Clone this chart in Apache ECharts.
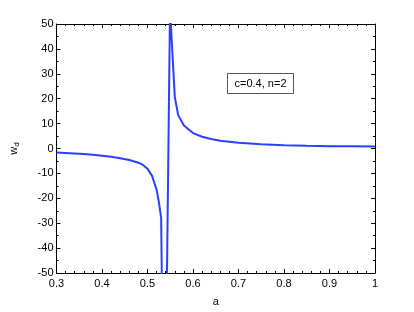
<!DOCTYPE html>
<html>
<head>
<meta charset="utf-8">
<script src="https://cdn.jsdelivr.net/npm/echarts@6/dist/echarts.min.js"></script>
<style>
html,body{margin:0;padding:0;background:#fff;}
#chart{width:414px;height:312px;}
</style>
</head>
<body>
<div id="chart"></div>
<script>
var aValues = [0.30, 0.32, 0.34, 0.36, 0.38, 0.40, 0.42, 0.44, 0.46, 0.48, 0.49, 0.50, 0.51, 0.52, 0.525, 0.53, 0.537,
               0.5495, 0.56, 0.5675, 0.58, 0.60, 0.62, 0.64, 0.66, 0.70, 0.75, 0.80, 0.85, 0.90, 0.95, 1.00];
var wValues = [-1.6, -1.8, -2.0, -2.2, -2.5, -2.9, -3.3, -3.9, -4.6, -5.7, -6.6, -8.1, -11, -16.5, -21.5, -28, -142,
               56, 20.6, 13.4, 9.2, 6.2, 4.7, 3.8, 3.1, 2.3, 1.7, 1.35, 1.1, 0.95, 0.88, 0.82];
var xTicks = [0.3, 0.4, 0.5, 0.6, 0.7, 0.8, 0.9, 1];
var yTicks = [-50, -40, -30, -20, -10, 0, 10, 20, 30, 40, 50];
var annotation = 'c=0.4, n=2';

var pts = aValues.map(function (a, i) { return [a, wValues[i]]; });
var font = 'Liberation Sans';
function axisCommon(showLabel) {
  return {
    axisLine: { show: true, onZero: false, lineStyle: { color: '#000', width: 1 } },
    axisTick: { show: true, inside: true, length: 4, lineStyle: { color: '#000' } },
    minorTick: { show: true, length: 2, lineStyle: { color: '#000' } },
    splitLine: { show: false },
    axisLabel: { show: showLabel, color: '#000', fontFamily: font, fontSize: 11 }
  };
}
var xb = axisCommon(true);
xb.type = 'value'; xb.min = xTicks[0]; xb.max = xTicks[xTicks.length - 1]; xb.interval = 0.1;
xb.position = 'bottom'; xb.minorTick.splitNumber = 5; xb.axisLabel.margin = 5;
xb.axisLabel.formatter = function (v) { return String(Math.round(v * 10) / 10); };
xb.name = 'a'; xb.nameLocation = 'middle'; xb.nameGap = 23;
xb.nameTextStyle = { color: '#000', fontFamily: font, fontSize: 11 };
var xt = axisCommon(false);
xt.type = 'value'; xt.min = xTicks[0]; xt.max = xTicks[xTicks.length - 1]; xt.interval = 0.1;
xt.position = 'top'; xt.minorTick.splitNumber = 5;
var yl = axisCommon(true);
yl.type = 'value'; yl.min = yTicks[0]; yl.max = yTicks[yTicks.length - 1]; yl.interval = 10;
yl.position = 'left'; yl.minorTick.splitNumber = 2; yl.axisLabel.margin = 3;
yl.name = 'w{sub|d}'; yl.nameLocation = 'middle'; yl.nameGap = 36; yl.nameRotate = 90;
yl.nameTextStyle = { color: '#000', fontFamily: font, fontSize: 11,
  rich: { sub: { fontSize: 8, verticalAlign: 'bottom', padding: [6, 0, 0, 0], fontFamily: font, color: '#000' } } };
var yr = axisCommon(false);
yr.type = 'value'; yr.min = yTicks[0]; yr.max = yTicks[yTicks.length - 1]; yr.interval = 10;
yr.position = 'right'; yr.minorTick.splitNumber = 2;

var chart = echarts.init(document.getElementById('chart'), null, { renderer: 'canvas' });
chart.setOption({
  animation: false,
  backgroundColor: '#fff',
  grid: { left: 54, right: 39, top: 24, bottom: 35, containLabel: false },
  xAxis: [xb, xt],
  yAxis: [yl, yr],
  series: [{
    type: 'line', data: pts, xAxisIndex: 0, yAxisIndex: 0,
    showSymbol: false, clip: true, smooth: false,
    lineStyle: { color: '#2b40ff', width: 2 }
  }],
  graphic: [{
    type: 'group', left: 227, top: 73,
    children: [
      { type: 'rect', shape: { x: 0, y: 0, width: 66, height: 20 },
        style: { fill: '#fff', stroke: '#555', lineWidth: 1 } },
      { type: 'text', x: 33, y: 10,
        style: { text: annotation, fill: '#000', font: '11px "Liberation Sans"', align: 'center', verticalAlign: 'middle' } }
    ]
  }]
});
</script>
</body>
</html>
